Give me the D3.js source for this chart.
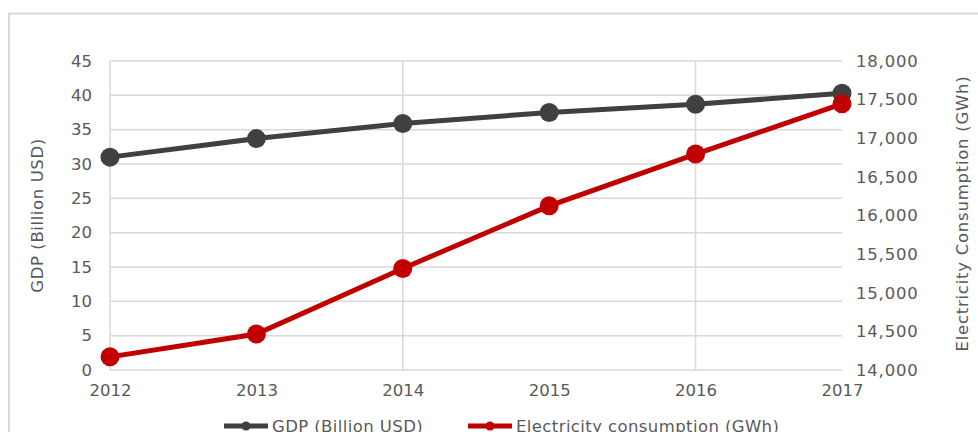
<!DOCTYPE html>
<html>
<head>
<meta charset="utf-8">
<script src="https://cdn.jsdelivr.net/npm/d3@7"></script>
<style>
  body { margin: 0; background: #fff; }
  text { font-family: "DejaVu Sans", Verdana, sans-serif; fill: #595959; }
</style>
</head>
<body>
<div id="chart"></div>
<script>
// data
var years = [2012, 2013, 2014, 2015, 2016, 2017]
var gdp = [31.0, 33.7, 35.9, 37.5, 38.7, 40.3]
var electricity = [14170, 14465, 15315, 16125, 16795, 17445]
var gdpTicks = [0, 5, 10, 15, 20, 25, 30, 35, 40, 45]
var elecTicks = [14000, 14500, 15000, 15500, 16000, 16500, 17000, 17500, 18000]
var gridYears = [2012, 2014, 2016]

var width = 978,
    height = 432

var svg = d3.select("#chart")
  .append("svg")
    .attr("width", width)
    .attr("height", height)

// outer frame
svg.append("path")
  .attr("d", "M9,432 V13.5 H978")
  .attr("fill", "none")
  .attr("stroke", "#d9d9d9")
  .attr("stroke-width", 2)

var x = d3.scaleLinear().domain([2012, 2017]).range([110, 842])
var yL = d3.scaleLinear().domain([0, 45]).range([370, 61])
var yR = d3.scaleLinear().domain([14000, 18000]).range([370, 61])

// horizontal grid
svg.append("g")
  .selectAll("line")
  .data(gdpTicks)
  .enter()
  .append("line")
    .attr("x1", x(2012))
    .attr("x2", x(2017))
    .attr("y1", function(d) { return yL(d) })
    .attr("y2", function(d) { return yL(d) })
    .attr("stroke", "#d9d9d9")
    .attr("stroke-width", 1.5)

// vertical grid (every other year)
svg.append("g")
  .selectAll("line")
  .data(gridYears)
  .enter()
  .append("line")
    .attr("x1", function(d) { return x(d) })
    .attr("x2", function(d) { return x(d) })
    .attr("y1", yL(45))
    .attr("y2", yL(0))
    .attr("stroke", "#d9d9d9")
    .attr("stroke-width", 1.5)

// axes
var leftAxis = svg.append("g")
  .attr("transform", "translate(" + (x(2012) - 10) + ",0)")
  .call(d3.axisLeft(yL).tickValues(gdpTicks).tickSize(0).tickPadding(8))
var rightAxis = svg.append("g")
  .attr("transform", "translate(" + (x(2017) + 6) + ",0)")
  .call(d3.axisRight(yR).tickValues(elecTicks).tickSize(0).tickPadding(8)
    .tickFormat(d3.format(",")))
var bottomAxis = svg.append("g")
  .attr("transform", "translate(0," + (yL(0) + 8) + ")")
  .call(d3.axisBottom(x).tickValues(years).tickSize(0).tickPadding(6)
    .tickFormat(d3.format("d")))

;[leftAxis, rightAxis, bottomAxis].forEach(function(g) {
  g.select(".domain").remove()
  g.selectAll("text")
    .style("font-family", "'DejaVu Sans', Verdana, sans-serif")
    .style("font-size", "16.5px")
    .attr("fill", "#595959")
})
rightAxis.selectAll("text").style("letter-spacing", "0.8px")

// axis titles
svg.append("text")
  .attr("transform", "translate(43," + ((yL(0) + yL(45)) / 2) + ") rotate(-90)")
  .attr("text-anchor", "middle")
  .style("font-size", "16.5px")
  .style("letter-spacing", "0.6px")
  .text("GDP (Billion USD)")

svg.append("text")
  .attr("transform", "translate(968," + ((yL(0) + yL(45)) / 2 - 2) + ") rotate(-90)")
  .attr("text-anchor", "middle")
  .style("font-size", "16.5px")
  .style("letter-spacing", "0.75px")
  .text("Electricity Consumption (GWh)")

// series
var series = [
  { name: "GDP (Billion USD)", values: gdp, y: yL, color: "#404040" },
  { name: "Electricity consumption (GWh)", values: electricity, y: yR, color: "#c00000" }
]

series.forEach(function(s) {
  var line = d3.line()
    .x(function(d, i) { return x(years[i]) })
    .y(function(d) { return s.y(d) })

  svg.append("path")
    .datum(s.values)
    .attr("d", line)
    .attr("fill", "none")
    .attr("stroke", s.color)
    .attr("stroke-width", 5)

  svg.append("g")
    .selectAll("circle")
    .data(s.values)
    .enter()
    .append("circle")
      .attr("cx", function(d, i) { return x(years[i]) })
      .attr("cy", function(d) { return s.y(d) })
      .attr("r", 9.5)
      .attr("fill", s.color)
})

// legend
var legendX = [224, 468]
series.forEach(function(s, i) {
  var g = svg.append("g").attr("transform", "translate(" + legendX[i] + ",426)")
  g.append("line")
    .attr("x1", 0).attr("x2", 44)
    .attr("stroke", s.color)
    .attr("stroke-width", 5)
  g.append("circle")
    .attr("cx", 22).attr("r", 4.5)
    .attr("fill", s.color)
  g.append("text")
    .attr("x", 48)
    .attr("dy", "0.35em")
    .style("font-size", "16.5px")
    .style("letter-spacing", "0.4px")
    .text(s.name)
})
</script>
</body>
</html>
